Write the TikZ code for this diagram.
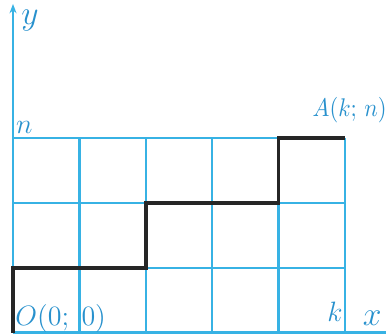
\documentclass[tikz,border=0pt]{standalone}
\usepackage{amsmath}
\usetikzlibrary{positioning,arrows.meta}

\definecolor{gridblue}{RGB}{55,178,228}
\definecolor{labelblue}{RGB}{40,145,205}

\begin{document}
\begin{tikzpicture}[
  x=1cm, y=0.976cm,
  >=Stealth,
  gridline/.style={draw=gridblue, line width=1pt},
  axisline/.style={draw=gridblue, line width=1.1pt, ->, >={Stealth[length=4pt,width=3pt]}},
  route/.style={draw=black!85, line width=1.6pt},
  lbl/.style={text=labelblue, inner sep=0pt, font=\fontsize{10.5}{12}\selectfont},
  biglbl/.style={lbl, font=\fontsize{11.5}{13}\selectfont},
  axislbl/.style={text=labelblue, inner sep=0pt, font=\Large}
]
  \useasboundingbox (-0.196cm,-0.023cm) rectangle (5.617cm,5.008cm);

  \coordinate (O) at (0,0);
  \coordinate (A) at (5,3);
  \coordinate (ytop) at (0,5.07);
  \coordinate (xend) at (5.8,0);

  % grid
  \foreach \i in {1,...,5}
    \draw[gridline] (\i,0) -- (\i,3);
  \foreach \j in {1,...,3}
    \draw[gridline] (0,\j) -- (5,\j);

  \draw[axisline] (O) -- (ytop);
  \draw[axisline] (O) -- (xend);

  \draw[route] (O) |- (2,1) |- (4,2) |- (A);

  \node[axislbl] (ylbl) at (0.256cm,4.706cm) {$y$};
  \node[axislbl, anchor=base] (xlbl) at (5.41cm,0.11cm) {$x$};
  \node[biglbl, anchor=base] (nlbl) at (0.17cm,2.99cm) {$n$};
  \node[biglbl, anchor=base] (klbl) at (4.85cm,0.16cm) {$k$};
  \node[lbl, anchor=base] (Albl) at (5.07cm,3.26cm) {\scalebox{0.88}[1]{$A(k;\,n)$}};
  \node[biglbl, anchor=base west] (Olbl) at (0.03cm,0.11cm) {$O(0;\;0)$};
\end{tikzpicture}
\end{document}
